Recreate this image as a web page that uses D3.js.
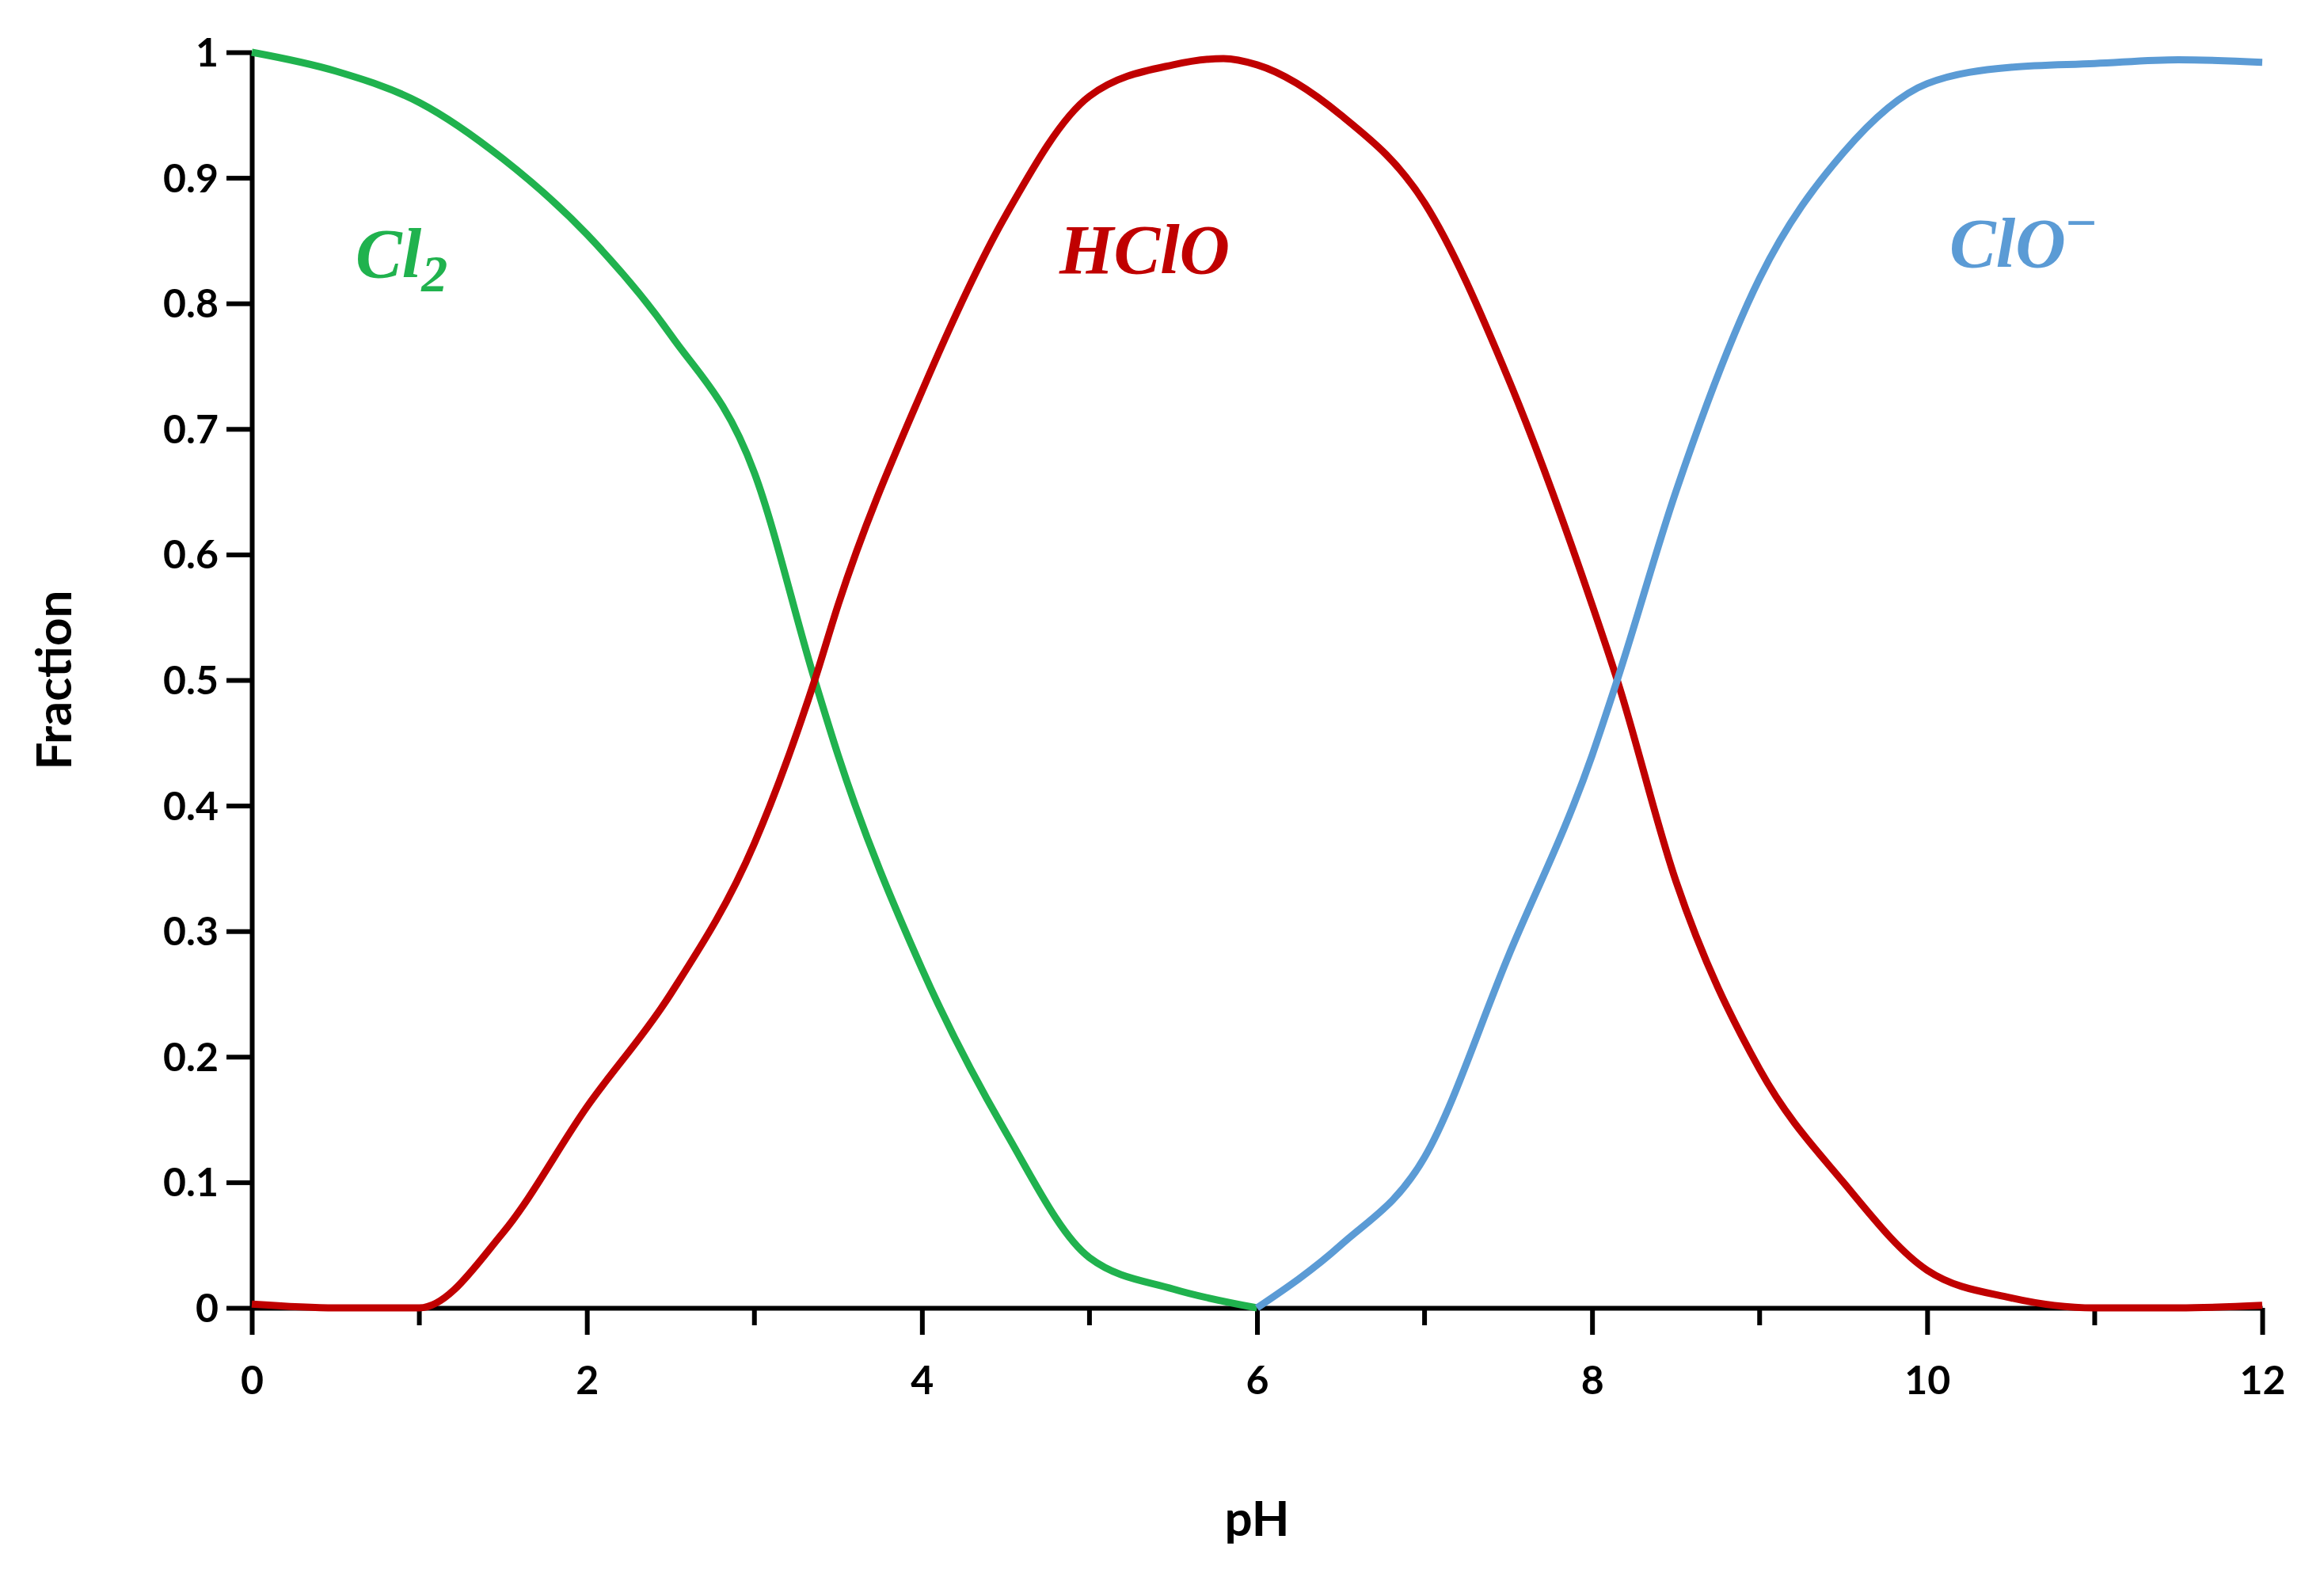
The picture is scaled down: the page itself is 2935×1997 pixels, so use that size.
<!DOCTYPE html>
<html>
<head>
<meta charset="utf-8">
<script src="https://cdn.jsdelivr.net/npm/d3@7"></script>
<style>
  body { margin: 0; background: #fff; }
  text { font-family: Lato, "Open Sans", sans-serif; font-weight: bold; }
</style>
</head>
<body>
<div id="chart"></div>
<script>
// values
const cl2 = [[0,1.0],[0.5,0.985],[1,0.96],[1.5,0.915],[2,0.855],[2.5,0.775],[3,0.665],[3.36,0.5],[3.5,0.44],[4,0.27],[4.5,0.14],[5,0.04],[5.5,0.015],[6,0.0]];
const hclo = [[0,0.003],[0.5,0],[1,0],[1.5,0.06],[2,0.16],[2.5,0.25],[3,0.37],[3.36,0.5],[3.5,0.56],[4,0.73],[4.5,0.87],[5,0.965],[5.5,0.99],[5.8,0.995],[6,0.99],[6.5,0.95],[7,0.88],[7.5,0.74],[8,0.56],[8.15,0.5],[8.5,0.34],[9,0.19],[9.5,0.1],[10,0.03],[10.5,0.008],[11,0.0],[11.5,0.0],[12,0.002]];
const clo = [[6,0],[6.5,0.05],[7,0.12],[7.5,0.28],[8,0.44],[8.15,0.5],[8.5,0.65],[9,0.82],[9.5,0.92],[10,0.975],[10.5,0.988],[11,0.991],[11.5,0.994],[12,0.992]];
const xTicks = [0, 2, 4, 6, 8, 10, 12];
const xMinor = [1, 3, 5, 7, 9, 11];
const yTicks = [0, 0.1, 0.2, 0.3, 0.4, 0.5, 0.6, 0.7, 0.8, 0.9, 1];

const width = 2935, height = 1997;
const plotLeft = 318, plotRight = 2857, plotTop = 66, plotBottom = 1652;

const svg = d3.select('#chart').append('svg')
    .attr('width', width).attr('height', height);

const x = d3.scaleLinear().domain([0, 12]).range([plotLeft, plotRight]);
const y = d3.scaleLinear().domain([0, 1]).range([plotBottom, plotTop]);

// x axis
const xg = svg.append('g').attr('transform', 'translate(0,' + plotBottom + ')')
    .call(d3.axisBottom(x).tickValues(xTicks).tickSize(34).tickSizeOuter(0).tickPadding(30).tickFormat(d3.format('d')));
xMinor.forEach(v => {
    xg.append('line').attr('x1', x(v)).attr('x2', x(v)).attr('y1', 0).attr('y2', 22)
        .attr('stroke', '#000').attr('stroke-width', 6);
});

// y axis
const yg = svg.append('g').attr('transform', 'translate(' + plotLeft + ',0)')
    .call(d3.axisLeft(y).tickValues(yTicks).tickSize(32).tickSizeOuter(0).tickPadding(10).tickFormat(d => d3.format('~g')(d)));

[xg, yg].forEach(g => {
    g.select('.domain').attr('stroke', '#000').attr('stroke-width', 6);
    g.selectAll('.tick line').attr('stroke', '#000').attr('stroke-width', 6);
    g.selectAll('.tick text').attr('fill', '#000').style('font-size', '50px');
});
yg.selectAll('.tick text').attr('dy', '0.35em');
xg.selectAll('.tick text').attr('dy', '0.9em');

// axis titles
svg.append('text').attr('x', (plotLeft + plotRight) / 2).attr('y', 1940)
    .attr('text-anchor', 'middle').style('font-size', '62px').text('pH');
svg.append('text').attr('transform', 'translate(90,' + (plotTop + plotBottom) / 2 + ') rotate(-90)')
    .attr('text-anchor', 'middle').style('font-size', '62px').text('Fraction');

// curves
const line = d3.line().x(d => x(d[0])).y(d => y(d[1])).curve(d3.curveMonotoneX);
const series = [
    {data: cl2, color: '#20b24e'},
    {data: hclo, color: '#c00000'},
    {data: clo, color: '#5b9bd5'}
];
series.forEach(s => {
    svg.append('path').datum(s.data).attr('d', line)
        .attr('fill', 'none').attr('stroke', s.color)
        .attr('stroke-width', 9).attr('stroke-linejoin', 'round');
});

// species labels
const labelFont = '"Liberation Serif", "DejaVu Serif", serif';
const l1 = svg.append('text').attr('x', 449).attr('y', 350).attr('fill', '#20b24e')
    .style('font-family', labelFont).style('font-style', 'italic').style('font-size', '88px');
l1.append('tspan').text('Cl');
l1.append('tspan').attr('dy', 18).style('font-size', '66px').text('2');
svg.append('text').attr('x', 1338).attr('y', 345).attr('fill', '#c00000')
    .style('font-family', labelFont).style('font-style', 'italic').style('font-size', '88px')
    .text('HClO');
const l3 = svg.append('text').attr('x', 2462).attr('y', 337).attr('fill', '#5b9bd5')
    .style('font-family', labelFont).style('font-style', 'italic').style('font-size', '88px');
l3.append('tspan').text('ClO');
l3.append('tspan').attr('dy', -32).style('font-style', 'normal').style('font-size', '70px').text('\u2212');
</script>
</body>
</html>
